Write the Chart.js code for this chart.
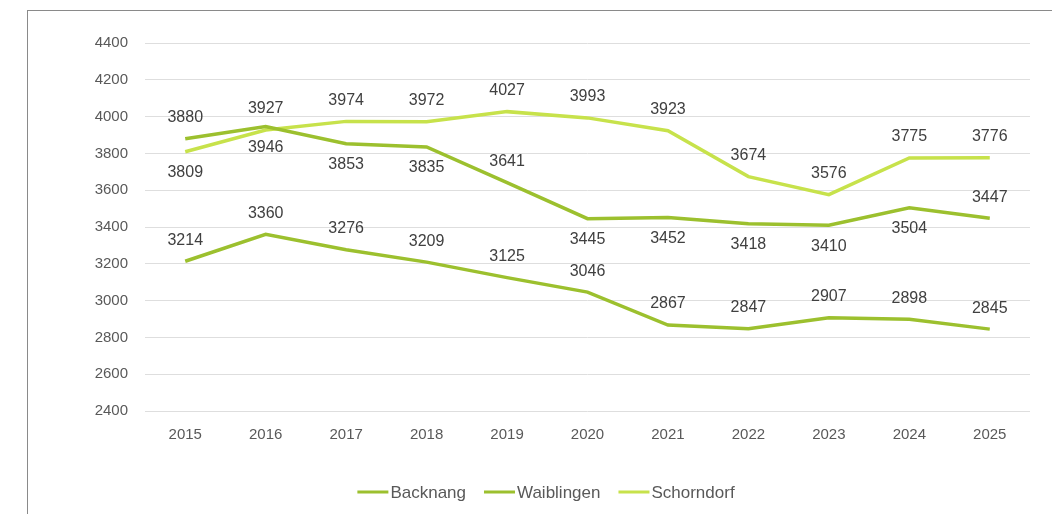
<!DOCTYPE html>
<html>
<head>
<meta charset="utf-8">
<script src="https://cdn.jsdelivr.net/npm/chart.js@4.4.1/dist/chart.umd.min.js"></script>
<style>
  html, body { margin: 0; padding: 0; background: #fff; }
  #wrap { position: relative; width: 1052px; height: 514px; }
  #frame {
    position: absolute; left: 27px; top: 10px; right: 0; bottom: 0;
    border-left: 1px solid #8a8a8a; border-top: 1px solid #8a8a8a;
    pointer-events: none;
  }
  canvas { position: absolute; left: 0; top: 0; }
</style>
</head>
<body>
<div id="wrap">
  <canvas id="chart" width="1052" height="514"></canvas>
  <div id="frame"></div>
</div>
<script>
// Data
const years = ["2015", "2016", "2017", "2018", "2019", "2020", "2021", "2022", "2023", "2024", "2025"];
const backnang = [3214, 3360, 3276, 3209, 3125, 3046, 2867, 2847, 2907, 2898, 2845];
const waiblingen = [3880, 3946, 3853, 3835, 3641, 3445, 3452, 3418, 3410, 3504, 3447];
const schorndorf = [3809, 3927, 3974, 3972, 4027, 3993, 3923, 3674, 3576, 3775, 3776];

// where the value labels sit relative to the point (-1 above, 1 below)
const backnangSide = [-1, -1, -1, -1, -1, -1, -1, -1, -1, -1, -1];
const waiblingenSide = [-1, 1, 1, 1, -1, 1, 1, 1, 1, 1, -1];
const schorndorfSide = [1, -1, -1, -1, -1, -1, -1, -1, -1, -1, -1];

const darkGreen = "#9cc02e";
const lightGreen = "#c7e24b";
const fontFamily = "'Liberation Sans', Arial, sans-serif";

// value labels
const valueLabels = {
  id: "valueLabels",
  afterDatasetsDraw(chart) {
    const ctx = chart.ctx;
    ctx.save();
    ctx.font = "16px " + fontFamily;
    ctx.fillStyle = "#404040";
    ctx.textAlign = "center";
    ctx.textBaseline = "middle";
    chart.data.datasets.forEach((ds, i) => {
      const meta = chart.getDatasetMeta(i);
      meta.data.forEach((pt, j) => {
        const side = ds.labelSide[j];
        ctx.fillText(String(ds.data[j]), pt.x, pt.y + side * 21);
      });
    });
    ctx.restore();
  }
};

// legend: short line, text right next to it
const lineLegend = {
  id: "lineLegend",
  afterDraw(chart) {
    const ctx = chart.ctx;
    const lineW = 31, gap = 2, itemGap = 18, y = 492;
    ctx.save();
    ctx.font = "17px " + fontFamily;
    ctx.textBaseline = "middle";
    const items = chart.data.datasets.map(ds => ({
      text: ds.label, color: ds.borderColor, w: ctx.measureText(ds.label).width
    }));
    let total = items.reduce((s, it) => s + lineW + gap + it.w, 0) + itemGap * (items.length - 1);
    let x = 546 - total / 2;
    items.forEach(it => {
      ctx.fillStyle = it.color;
      ctx.fillRect(x, y - 1.5, lineW, 3);
      x += lineW + gap;
      ctx.fillStyle = "#595959";
      ctx.fillText(it.text, x, y + 1);
      x += it.w + itemGap;
    });
    ctx.restore();
  }
};

let chartCanvas = document.getElementById("chart");

const lineChart = new Chart(chartCanvas, {
  type: "line",
  data: {
    labels: years,
    datasets: [
      {
        label: "Backnang",
        data: backnang,
        labelSide: backnangSide,
        borderColor: darkGreen,
        backgroundColor: darkGreen,
        borderWidth: 3.5,
        pointRadius: 0,
        tension: 0
      },
      {
        label: "Waiblingen",
        data: waiblingen,
        labelSide: waiblingenSide,
        borderColor: darkGreen,
        backgroundColor: darkGreen,
        borderWidth: 3.5,
        pointRadius: 0,
        tension: 0
      },
      {
        label: "Schorndorf",
        data: schorndorf,
        labelSide: schorndorfSide,
        borderColor: lightGreen,
        backgroundColor: lightGreen,
        borderWidth: 3.5,
        pointRadius: 0,
        tension: 0
      }
    ]
  },
  options: {
    responsive: false,
    animation: false,
    layout: {
      padding: { left: 80, right: 22, top: 43, bottom: 0 }
    },
    scales: {
      x: {
        offset: true,
        grid: { display: false },
        border: { display: false },
        ticks: {
          padding: 7,
          color: "#595959",
          font: { family: fontFamily, size: 15 }
        },
        afterFit: (scale) => { scale.height = 103; }
      },
      y: {
        min: 2400,
        max: 4400,
        grid: { color: "#dedede", lineWidth: 1, drawTicks: false },
        border: { display: false },
        ticks: {
          stepSize: 200,
          padding: 17,
          color: "#595959",
          font: { family: fontFamily, size: 15 },
          callback: (v) => String(v)
        },
        afterFit: (scale) => { scale.width = 65; }
      }
    },
    plugins: {
      legend: { display: false },
      tooltip: { enabled: false }
    }
  },
  plugins: [valueLabels, lineLegend]
});
</script>
</body>
</html>
